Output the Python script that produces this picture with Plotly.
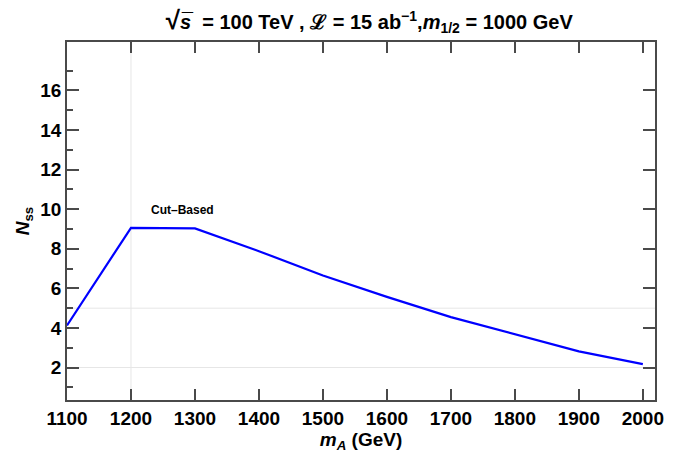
import plotly.graph_objects as go

m_A = [1100, 1200, 1300, 1400, 1500, 1600, 1700, 1800, 1900, 2000]
n_ss = [4.13, 9.06, 9.03, 7.88, 6.65, 5.57, 4.55, 3.67, 2.82, 2.17]
x_ticks = [1100, 1200, 1300, 1400, 1500, 1600, 1700, 1800, 1900, 2000]
y_ticks = [2, 4, 6, 8, 10, 12, 14, 16]
grid_x = [1200]
grid_y = [2, 5]
label_text = "Cut\u2013Based"
label_pos = (1281, 9.95)

x_range = [1100, 2019]
y_range = [0.36, 18.45]

font_family = "Liberation Sans, Arial, sans-serif"
axis_col = "#4a4a4a"

fig = go.Figure()
fig.add_trace(go.Scatter(x=m_A, y=n_ss, mode="lines",
                         line=dict(color="#0000ff", width=2.2),
                         showlegend=False, hoverinfo="skip"))
fig.add_trace(go.Scatter(x=[m_A[0]], y=[n_ss[0]], yaxis="y2", mode="markers",
                         marker=dict(opacity=0), showlegend=False, hoverinfo="skip"))

shapes = []
for gx in grid_x:
    shapes.append(dict(type="line", xref="x", yref="paper", x0=gx, x1=gx, y0=0, y1=1,
                       line=dict(color="#e6e6e6", width=1), layer="below"))
for gy in grid_y:
    shapes.append(dict(type="line", xref="paper", yref="y", x0=0, x1=1, y0=gy, y1=gy,
                       line=dict(color="#e6e6e6", width=1), layer="below"))

fig.update_layout(
    width=694, height=458,
    margin=dict(l=67, r=39, t=42, b=53),
    paper_bgcolor="white", plot_bgcolor="white",
    font=dict(family=font_family, color="black"),
    title=dict(
        text="<b><span style='font-size:26px'>\u221a</span><i>s\u0305</i>  = 100 TeV , \u2112 = 15 ab<sup>\u22121</sup>,<i>m</i><sub>1/2</sub> = 1000 GeV</b>",
        x=0.532, xanchor="center", y=0.952, yanchor="middle",
        font=dict(size=20, family=font_family)),
    shapes=shapes,
    xaxis=dict(range=x_range, tickvals=x_ticks, ticks="inside", ticklen=11,
               tickwidth=1.5, tickcolor=axis_col, showline=True, linecolor=axis_col,
               linewidth=1.5, mirror="ticks", showgrid=False, zeroline=False,
               tickfont=dict(size=19, family=font_family),
               ticktext=[f"<b>{v}</b>" for v in x_ticks],
               title=dict(text="<b><i>m</i><sub><i>A</i></sub> (GeV)</b>",
                          font=dict(size=19), standoff=4)),
    yaxis=dict(range=y_range, tickvals=y_ticks, ticktext=[f"<b>{v}</b>" for v in y_ticks],
               ticks="inside", ticklen=12, tickwidth=1.5, tickcolor=axis_col,
               showline=True, linecolor=axis_col, linewidth=1.5, mirror=True,
               showgrid=False, zeroline=False,
               minor=dict(dtick=2, tick0=1, ticks="inside", ticklen=6,
                          tickwidth=1.5, tickcolor=axis_col, showgrid=False),
               tickfont=dict(size=19, family=font_family),
               title=dict(text="<b><i>N</i><sub>ss</sub></b>", font=dict(size=19),
                          standoff=6)),
    yaxis2=dict(range=y_range, overlaying="y", side="right", tickvals=y_ticks,
                showticklabels=False, ticks="inside", ticklen=12, tickwidth=1.5,
                tickcolor=axis_col, showline=True, linecolor=axis_col, linewidth=1.5,
                showgrid=False, zeroline=False),
    annotations=[dict(x=label_pos[0], y=label_pos[1], xref="x", yref="y",
                      text=f"<b>{label_text}</b>", showarrow=False,
                      font=dict(size=12, family=font_family))],
)

fig.write_html("out.html")
